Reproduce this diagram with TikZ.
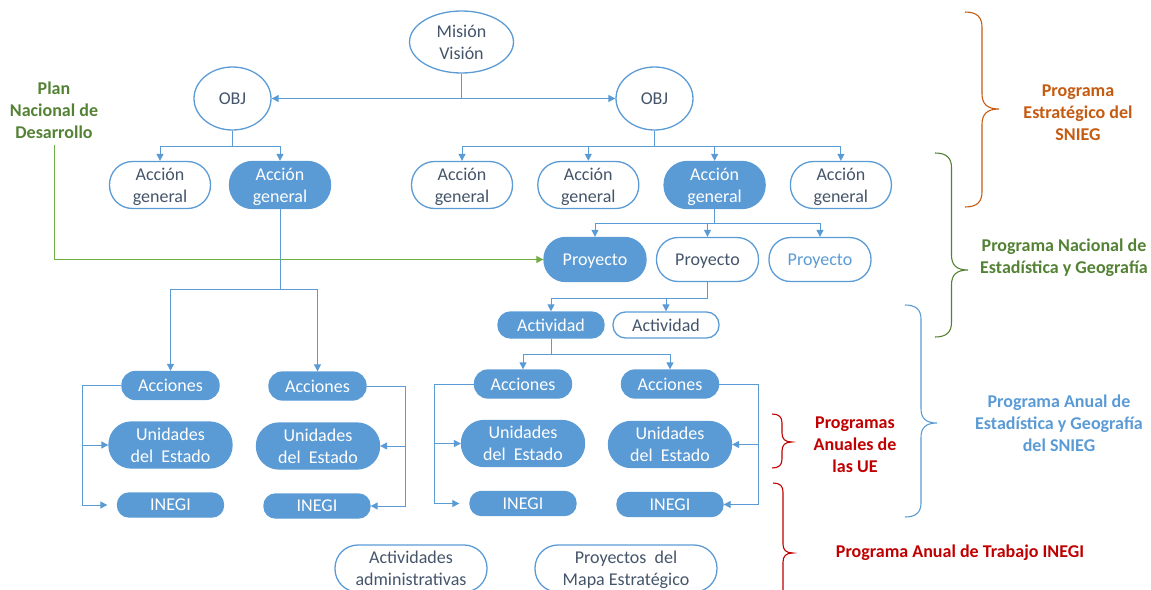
\documentclass[tikz,border=0pt]{standalone}
\usepackage{fontspec}
\setmainfont{Carlito}
\usetikzlibrary{shapes.geometric,arrows.meta,positioning}

\definecolor{azul}{HTML}{5B9BD5}
\definecolor{pizarra}{HTML}{44546A}
\definecolor{verde}{HTML}{548235}
\definecolor{verdeclaro}{HTML}{70AD47}
\definecolor{naranja}{HTML}{C55A11}
\definecolor{rojo}{HTML}{C00000}

\tikzset{
  base/.style={draw=azul, line width=1.3pt, text=pizarra, align=center,
    inner sep=0pt, text depth=0pt, font=\fontsize{18}{22}\selectfont},
  elipse/.style={base, ellipse},
  llena/.style={fill=azul, text=white},
  accion/.style={base, minimum width=101pt, minimum height=47pt, rounded corners=23pt},
  proy/.style={base, minimum width=102pt, minimum height=44pt, rounded corners=21.5pt},
  activ/.style={base, minimum width=106pt, minimum height=26pt, rounded corners=12.5pt},
  accs/.style={base, llena, minimum width=97pt, minimum height=28pt, rounded corners=13.5pt},
  unid/.style={base, llena, minimum width=123pt, minimum height=46pt, rounded corners=22.5pt},
  inegi/.style={base, llena, minimum width=106pt, minimum height=24pt, rounded corners=11.5pt},
  final/.style={base, minimum height=47pt, rounded corners=23pt},
  etiqueta/.style={align=center, inner sep=0pt, font=\fontsize{18}{22}\selectfont\bfseries},
  conn/.style={draw=azul, line width=1pt},
  flecha/.style={conn, -{Triangle[length=7pt,width=7pt]}},
}

% curly brace: colour, x of ends, top y, tip y, bottom y, width
\newcommand{\llave}[6]{%
  \draw[#1, line width=1.1pt]
    (#2,#3) .. controls ({#2+#6*0.35},#3) and ({#2+#6/2},{#3+#6*0.15}) .. ({#2+#6/2},{#3+#6*0.45})
    -- ({#2+#6/2},{#4-#6*0.45}) .. controls ({#2+#6/2},{#4-#6*0.15}) and ({#2+#6*0.65},#4) .. ({#2+#6},#4)
    .. controls ({#2+#6*0.65},#4) and ({#2+#6/2},{#4+#6*0.15}) .. ({#2+#6/2},{#4+#6*0.45})
    -- ({#2+#6/2},{#5-#6*0.45}) .. controls ({#2+#6/2},{#5-#6*0.15}) and ({#2+#6*0.35},#5) .. (#2,#5);
}

\begin{document}
\begin{tikzpicture}[x=1pt, y=-1pt]
  \useasboundingbox (0,0) rectangle (1151,589);

  % Define nodes
  \node[elipse, minimum width=104pt, minimum height=62pt] (mis) at (461.5,42) {Misión\\Visión};
  \node[elipse, minimum width=77pt, minimum height=63pt] (objL) at (232.5,98.5) {OBJ};
  \node[elipse, minimum width=77pt, minimum height=63pt] (objR) at (654.5,98.5) {OBJ};

  \node[accion] (agL1) at (160,185) {Acción\\general};
  \node[accion, llena] (agL2) at (280,185) {Acción\\general};
  \node[accion] (agR1) at (462,185) {Acción\\general};
  \node[accion, right=24pt of agR1] (agR2) {Acción\\general};
  \node[accion, llena, right=24pt of agR2] (agR3) {Acción\\general};
  \node[accion, right=24pt of agR3] (agR4) {Acción\\general};

  \node[proy, llena] (pr1) at (595,259.5) {Proyecto};
  \node[proy] (pr2) at (707.5,259.5) {Proyecto};
  \node[proy, text=azul] (pr3) at (820,259.5) {Proyecto};

  \node[activ, llena] (act1) at (551,325) {Actividad};
  \node[activ] (act2) at (666,325) {Actividad};

  \node[accs] (acL1) at (170.5,385.5) {Acciones};
  \node[accs] (acL2) at (317.5,386) {Acciones};
  \node[accs] (acR1) at (523,384) {Acciones};
  \node[accs] (acR2) at (670,384) {Acciones};

  \node[unid] (unL1) at (170.5,445) {Unidades\\del~ Estado};
  \node[unid] (unL2) at (318,446) {Unidades\\del~ Estado};
  \node[unid] (unR1) at (523,443.5) {Unidades\\del~ Estado};
  \node[unid] (unR2) at (670,444.5) {Unidades\\del~ Estado};

  \node[inegi] (inL1) at (170.5,505) {INEGI};
  \node[inegi] (inL2) at (317,506) {INEGI};
  \node[inegi] (inR1) at (523,503.5) {INEGI};
  \node[inegi] (inR2) at (670,504.5) {INEGI};

  \node[final, minimum width=152pt] (adm) at (411,568.5) {Actividades\\administrativas};
  \node[final, minimum width=182pt] (mapa) at (626,568.5) {Proyectos~ del\\Mapa Estratégico};

  % Labels
  \node[etiqueta, text=verde] (plan) at (54,110) {Plan\\Nacional de\\Desarrollo};
  \node[etiqueta, text=naranja] (pe) at (1078,113) {Programa\\Estratégico del\\SNIEG};
  \node[etiqueta, text=verde] (pn) at (1064,258) {Programa Nacional de\\Estadística y Geografía};
  \node[etiqueta, text=azul] (pa) at (1059,423) {Programa Anual de\\Estadística y Geografía\\del SNIEG};
  \node[etiqueta, text=rojo] (pue) at (855,445) {Programas\\Anuales de\\las UE};
  \node[etiqueta, text=rojo] (pt) at (960,553) {Programa Anual de Trabajo INEGI};

  % Edges
  \draw[flecha] (mis) |- (objL);
  \draw[flecha] (mis) |- (objR);
  \foreach \n in {agL1,agL2}
    \draw[flecha] (objL.south) -- ++(0,15.5) -| (\n.north);
  \foreach \n in {agR1,agR2,agR3,agR4}
    \draw[flecha] (objR.south) -- ++(0,15.5) -| (\n.north);
  \foreach \n in {pr1,pr2,pr3}
    \draw[flecha] (agR3.south) -- ++(0,14) -| (\n.north);
  \foreach \n in {act1,act2}
    \draw[flecha] (pr2.south) -- ++(0,16) -| (\n.north);
  \foreach \n in {acR1,acR2}
    \draw[flecha] (act1.south) -- ++(0,16) -| (\n.north);
  \foreach \n in {acL1,acL2}
    \draw[flecha] (agL2.south) -- ++(0,80.5) -| (\n.north);

  \draw[flecha] (acL1.west) -- ++(-39,0) |- (unL1.west);
  \draw[flecha, shorten >=9.5pt] (acL1.west) -- ++(-39,0) |- (inL1.west);
  \draw[flecha] (acL2.east) -- ++(39,0) |- (unL2.east);
  \draw[flecha] (acL2.east) -- ++(39,0) |- (inL2.east);
  \draw[flecha] (acR1.west) -- ++(-39.5,0) |- (unR1.west);
  \draw[flecha, shorten >=10pt] (acR1.west) -- ++(-39.5,0) |- (inR1.west);
  \draw[flecha] (acR2.east) -- ++(39.5,0) |- (unR2.east);
  \draw[flecha] (acR2.east) -- ++(39.5,0) |- (inR2.east);

  \draw[draw=verdeclaro, line width=1pt, -{Triangle[length=7pt,width=7pt]},
    shorten <=6pt] (plan.south) |- (pr1.west);

  % Braces
  \llave{naranja}{965}{12}{109}{207}{34}
  \llave{verde}{935}{153}{270}{337}{33}
  \llave{azul}{905}{305}{423}{517}{32}
  \llave{rojo}{772}{414}{442}{468}{20}
  \llave{rojo}{773}{483}{553}{623}{20}
\end{tikzpicture}
\end{document}
